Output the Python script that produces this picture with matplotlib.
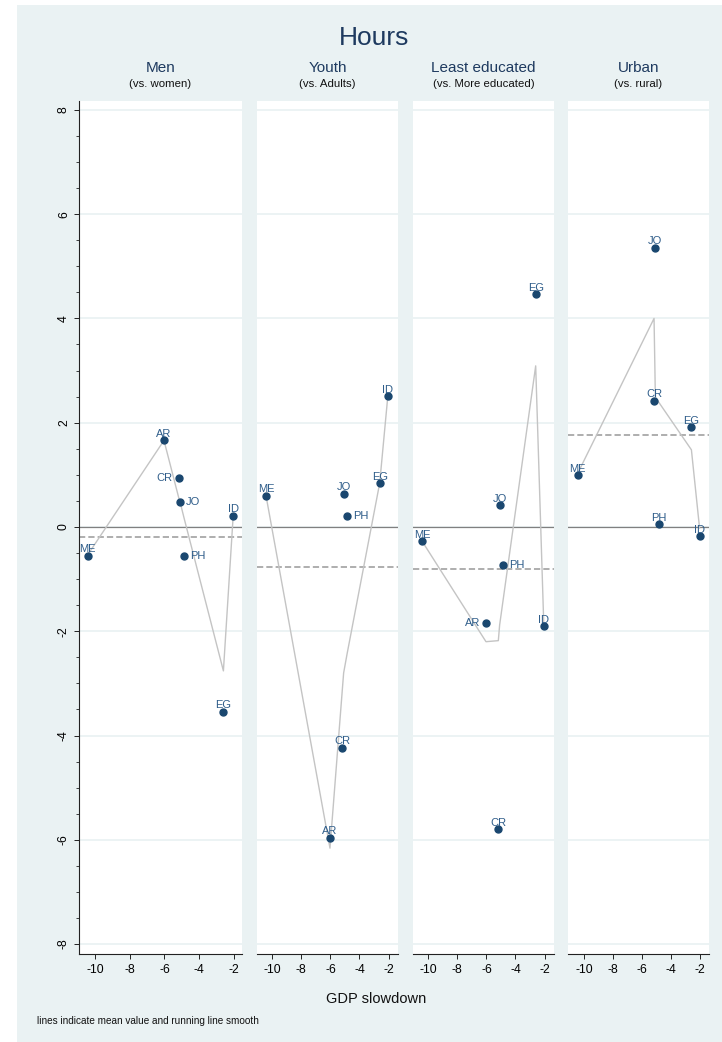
import matplotlib
matplotlib.use("Agg")
import matplotlib.pyplot as plt
from matplotlib.patches import Rectangle
import numpy as np

plt.rcParams['font.family'] = ['Liberation Sans', 'DejaVu Sans']
plt.rcParams['lines.scale_dashes'] = False

# ---- data -----------------------------------------------------------------
countries = ["ME", "AR", "CR", "JO", "PH", "EG", "ID"]
gdp_slowdown = [-10.43, -6.03, -5.18, -5.09, -4.85, -2.61, -2.05]

panel_titles = ["Men", "Youth", "Least educated", "Urban"]
panel_subtitles = ["(vs. women)", "(vs. Adults)", "(vs. More educated)", "(vs. rural)"]

hours_men = [-0.55, 1.66, 0.93, 0.47, -0.56, -3.54, 0.22]
hours_youth = [0.60, -5.96, -4.23, 0.64, 0.21, 0.84, 2.51]
hours_least_educated = [-0.27, -1.84, -5.79, 0.42, -0.72, 4.47, -1.90]
hours_urban = [1.00, np.nan, 2.42, 5.36, 0.05, 1.92, -0.17]

# running line smooth evaluated at each country's GDP slowdown
smooth_men = [-0.54, 1.66, 0.56, 0.46, 0.14, -2.76, 0.20]
smooth_youth = [0.60, -6.16, -3.12, -2.80, -2.43, 0.84, 2.51]
smooth_least_educated = [-0.27, -2.20, -2.18, -1.88, -1.40, 3.09, -1.90]
smooth_urban = [1.03, np.nan, 4.00, 2.49, 2.39, 1.48, -0.02]

y_ticks = [-8, -6, -4, -2, 0, 2, 4, 6, 8]
x_ticks = [-10, -8, -6, -4, -2]

series = [hours_men, hours_youth, hours_least_educated, hours_urban]
smooths = [smooth_men, smooth_youth, smooth_least_educated, smooth_urban]

# ---- style ----------------------------------------------------------------
BG = "#EAF2F3"
NAVY = "#1a476f"
LABEL = "#2f5d8a"
HEAD = "#1e3a5f"
label_side = [
    ["top", "top", "left", "right", "right", "top", "top"],
    ["top", "top", "top", "top", "right", "top", "top"],
    ["top", "left", "top", "top", "right", "top", "top"],
    ["top", "top", "top", "top", "top", "top", "top"],
]

W, H = 722, 1042
fig = plt.figure(figsize=(W / 100, H / 100), dpi=100)
fig.patch.set_facecolor("white")
fig.add_artist(Rectangle((17 / W, 0), 1 - 17 / W, 1 - 5 / H,
                         transform=fig.transFigure, facecolor=BG,
                         edgecolor="none", zorder=-10))

top_px, bot_px = 101, 954
panels_px = [(79, 163), (257, 141), (413, 141), (568, 141)]
xlims = [(-10.92, -1.54), (-11.05, -1.35), (-11.05, -1.35), (-11.1, -1.4)]

for i, (left, width) in enumerate(panels_px):
    ax = fig.add_axes([left / W, (H - bot_px) / H, width / W, (bot_px - top_px) / H])
    ax.set_facecolor("white")
    ax.set_xlim(*xlims[i])
    ax.set_ylim(-8.19, 8.17)

    for s in ["top", "right"]:
        ax.spines[s].set_visible(False)
    ax.spines["bottom"].set_linewidth(0.8)
    ax.spines["bottom"].set_color("#222222")

    ax.set_yticks(y_ticks)
    ax.yaxis.grid(True, color=BG, linewidth=1.3)
    ax.set_axisbelow(True)
    ax.set_xticks(x_ticks)
    ax.set_xticklabels([str(t) for t in x_ticks])
    ax.tick_params(axis="x", direction="out", length=3.5, width=0.7,
                   color="#222222", labelsize=8.8, pad=4)

    if i == 0:
        ax.spines["left"].set_linewidth(0.8)
        ax.spines["left"].set_color("#222222")
        ax.set_yticklabels([str(t) for t in y_ticks])
        ax.set_yticks(np.arange(-8, 8.01, 0.5), minor=True)
        ax.tick_params(axis="y", which="major", direction="out", length=3.5,
                       width=0.7, color="#222222", labelsize=8.8, pad=3,
                       labelrotation=90)
        ax.tick_params(axis="y", which="minor", direction="out", length=2,
                       width=0.6, color="#222222")
        for lab in ax.get_yticklabels():
            lab.set_va("center")
    else:
        ax.spines["left"].set_visible(False)
        ax.tick_params(axis="y", which="both", length=0, labelleft=False)

    vals = np.array(series[i], dtype=float)
    sm = np.array(smooths[i], dtype=float)
    xs = np.array(gdp_slowdown, dtype=float)

    ax.axhline(0, color="#808080", linewidth=0.9, zorder=1)
    ax.axhline(np.nanmean(vals), color="#999999", linewidth=1.1,
               dashes=(4.5, 2.2), zorder=1)

    ok = ~np.isnan(sm)
    ax.plot(xs[ok], sm[ok], color="#c4c4c4", linewidth=1.0, zorder=2)

    okv = ~np.isnan(vals)
    ax.plot(xs[okv], vals[okv], linestyle="none", marker="o", markersize=5,
            color=NAVY, zorder=3)

    for c, x, y, side in zip(countries, xs, vals, label_side[i]):
        if np.isnan(y):
            continue
        if side == "top":
            off, ha, va = (0, 2.4), "center", "baseline"
        elif side == "left":
            off, ha, va = (-4.2, 0), "right", "center"
        else:
            off, ha, va = (4.2, 0), "left", "center"
        ax.annotate(c, (x, y), xytext=off, textcoords="offset points",
                    ha=ha, va=va, fontsize=8, color=LABEL, zorder=4)

    cx = (left + width / 2) / W
    fig.text(cx, 1 - 68 / H, panel_titles[i], ha="center", va="center",
             fontsize=11, color=HEAD)
    fig.text(cx, 1 - 84 / H, panel_subtitles[i], ha="center", va="center",
             fontsize=8.2, color="#111111")

fig.text(374 / W, 1 - 38 / H, "Hours", ha="center", va="center",
         fontsize=19, color=HEAD)
fig.text(376 / W, 1 - 999 / H, "GDP slowdown", ha="center", va="center",
         fontsize=10.5, color="#111111")
fig.text(37 / W, 1 - 1021 / H, "lines indicate mean value and running line smooth",
         ha="left", va="center", fontsize=7.2, color="#111111")

fig.savefig("out.png", dpi=100, facecolor=fig.get_facecolor())
